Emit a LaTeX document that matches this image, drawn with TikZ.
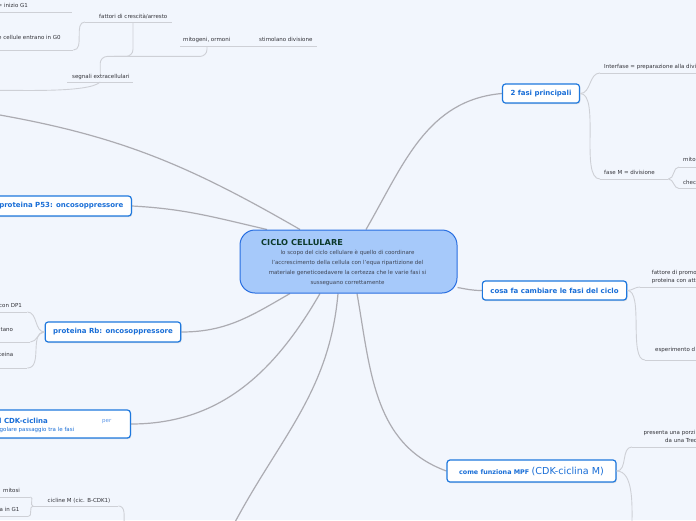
\documentclass[tikz,border=0pt]{standalone}
\usepackage{fontspec}
\setmainfont{DejaVu Sans}
\usetikzlibrary{shadows}
\definecolor{paper}{RGB}{242,246,253}
\definecolor{boxblue}{RGB}{30,120,222}
\definecolor{txtblue}{RGB}{25,110,215}
\definecolor{perblue}{RGB}{90,150,232}
\definecolor{centrefill}{RGB}{166,201,250}
\definecolor{centredraw}{RGB}{40,110,225}
\definecolor{titlegreen}{RGB}{12,58,44}
\definecolor{bodygray}{RGB}{62,68,84}
\definecolor{linkgray}{RGB}{172,172,178}
\definecolor{subgray}{RGB}{206,208,214}
\definecolor{subtxt}{RGB}{50,50,56}
\newcommand{\subfont}{\fontsize{5.5}{6.6}\selectfont}
\newcommand{\topic}[3]{\makebox[#1pt][l]{\hspace*{#2pt}#3}}
\pgfdeclarelayer{back}\pgfdeclarelayer{links}
\pgfsetlayers{back,links,main}

\begin{document}
\begin{tikzpicture}[x=1pt,y=1pt,
    link/.style={draw=linkgray, line width=1.2pt},
    subline/.style={draw=subgray, line width=0.9pt},
    topicbox/.style={rectangle, rounded corners=3pt, draw=boxblue, line width=1.2pt, fill=white, text=txtblue,
        font=\bfseries\fontsize{7}{8.4}\selectfont, inner xsep=8pt, inner ysep=0pt, minimum height=19pt,
        drop shadow={opacity=0.22, shadow xshift=0.8pt, shadow yshift=-1.2pt}},
    centre/.style={rectangle, rounded corners=15pt, draw=centredraw, line width=1pt, fill=centrefill,
        minimum width=217pt, minimum height=63pt},
    sub/.style={font=\subfont, text=subtxt, inner sep=0pt, anchor=south west, text depth=4pt},
    plain/.style={inner sep=0pt, anchor=base west}]
\useasboundingbox (0,0) rectangle (696,-520);
\begin{pgfonlayer}{back}
    \fill[paper] (0,0) rectangle (696,-520);
\end{pgfonlayer}

% centro
\node[centre] (ciclo) at (348.5,-261.5) {};
\node[plain, font=\bfseries\fontsize{8.2}{9}\selectfont, text=titlegreen] (titolo) at (261,-245.3) {CICLO CELLULARE};
\node[align=center, inner sep=0pt, font=\fontsize{5.5}{10}\selectfont, text=bodygray] (scopo) at (347.5,-267.6)
    {lo scopo del ciclo cellulare è quello di coordinare\\l'accrescimento della cellula con l'equa ripartizione del\\materiale geneticoedavere la certezza che le varie fasi si\\susseguano correttamente};

% rami principali
\node[topicbox] (fasi) at (541,-93.5) {2 fasi principali};
\node[topicbox] (cosa) at (554.5,-290.5) {cosa fa cambiare le fasi del ciclo};
\node[topicbox, minimum height=22pt, minimum width=169pt] (mpf) at (531.5,-471) {{\fontsize{6.4}{7}\selectfont come funziona MPF} {\mdseries\fontsize{9.6}{11}\selectfont (CDK-ciclina M)}};
\node[topicbox, anchor=east, minimum height=20pt] (p53) at (132,-206) {proteina P53: oncosoppressore};
\node[topicbox, minimum height=20pt] (rb) at (113,-332) {proteina Rb: oncosoppressore};
\node[topicbox, anchor=east, minimum width=145pt, minimum height=28pt] (cdk) at (131,-424) {};
\node[plain, font=\bfseries\fontsize{7}{8}\selectfont, text=txtblue] (cdka) at (-1,-423.3) {l CDK-ciclina};
\node[plain, font=\subfont, text=perblue] (cdkb) at (102,-422.8) {per};
\node[plain, font=\subfont, text=txtblue] (cdkc) at (-0.5,-431.2) {golare passaggio tra le fasi};

% sottorami
\node[sub] (n01) at (-3,-12) {\topic{75}{0.5}{= inizio G1}};
\node[sub, text depth=10pt] (n02) at (-3,-50) {\topic{76}{1}{e cellule entrano in G0}};
\node[sub, text depth=3pt] (n03) at (85,-22) {\topic{87}{14}{fattori di crescità/arresto}};
\node[sub, text depth=4.5pt] (n04) at (180,-46.5) {\topic{70}{3}{mitogeni, ormoni}};
\node[sub, text depth=4.5pt] (n05) at (250,-46.5) {\topic{67}{9}{stimolano divisione}};
\node[sub, text depth=3pt] (n06) at (67,-82) {\topic{66}{5}{segnali extracellulari}};
\node[sub, text depth=4.5pt] (n07) at (-3,-312) {\topic{30}{2}{con DP1}};
\node[sub, text depth=10.7pt] (n08) at (-3,-342) {\topic{33}{3.5}{tano}};
\node[sub, text depth=11.3pt] (n09) at (-3,-368) {\topic{30}{2}{teina}};
\node[sub] (n10) at (-3,-497) {\topic{33}{6}{mitosi}};
\node[sub, text depth=4.5pt] (n11) at (-3,-516.5) {\topic{31}{2.5}{a in G1}};
\node[sub, text depth=3.5pt] (n12) at (33,-506) {\topic{85}{14.5}{cicline M (cic. B-CDK1)}};
\node[sub, text depth=4.3pt] (n13) at (600,-73) {\topic{100}{4}{Interfase = preparazione alla divi}};
\node[sub] (n14) at (600,-179) {\topic{68}{4}{fase M = divisione}};
\node[sub, text depth=5pt] (n15) at (679,-167) {\topic{25}{4}{mito}};
\node[sub, text depth=3.5pt] (n16) at (679,-188.5) {\topic{25}{4}{chec}};
\node[sub, text depth=4.3pt] (n17) at (640,-287) {\topic{60}{11.7}{\shortstack[l]{fattore di promo\\proteina con att}}};
\node[sub, text depth=8pt] (n18) at (645,-360) {\topic{60}{10}{esperimento d}};
\node[sub] (n19) at (632,-447) {\topic{70}{11.5}{\shortstack[l]{presenta una porzi\\\hspace*{21.5pt}da una Treo}}};

\coordinate (offA) at (-3,-114.5); \coordinate (offB) at (234,-524); \coordinate (offC) at (-3,-90.5);
\coordinate (offD) at (124,-524); \coordinate (offE) at (632,-524);
\coordinate (segj) at ([yshift=18]n06.north);

\begin{pgfonlayer}{links}
    \draw[link] ([xshift=17.5]ciclo.north) to[out=60,in=185] (fasi.west);
    \draw[link] ([yshift=-26]ciclo.east) to[out=-10,in=180] (cosa.west);
    \draw[link] ([xshift=8.5]ciclo.south) to[out=-80,in=160] (mpf.west);
    \draw[link] ([xshift=-81.5]ciclo.north) to[out=167,in=-3] (p53.east);
    \draw[link] ([xshift=-48.5]ciclo.north) to[out=150,in=-10] (offA);
    \draw[link] ([xshift=-58.5]ciclo.south) to[out=-150,in=0] (rb.east);
    \draw[link] ([xshift=-28.5]ciclo.south) to[out=-120,in=0] (cdk.east);
    \draw[link] ([xshift=-10.5]ciclo.south) to[out=-95,in=62] (offB);
\end{pgfonlayer}

\foreach \n in {n01,n02,n03,n04,n05,n06,n07,n08,n09,n10,n11,n12,n13,n14,n15,n16,n17,n18,n19}
    \draw[subline] (\n.south west) -- (\n.south east);
\draw[subline] (fasi.east) to[out=0,in=180] (n13.south west); \draw[subline] (fasi.east) to[out=0,in=180,looseness=0.6] (n14.south west);
\draw[subline] (n14.south east) to[out=0,in=180] (n15.south west); \draw[subline] (n14.south east) to[out=0,in=180] (n16.south west);
\draw[subline] (cosa.east) to[out=0,in=180] (n17.south west); \draw[subline] (cosa.east) to[out=0,in=180,looseness=0.6] (n18.south west);
\draw[subline] (mpf.east) to[out=0,in=180] (n19.south west); \draw[subline] (mpf.east) to[out=0,in=90,looseness=0.8] (offE);
\draw[subline] (rb.west) to[out=180,in=0] (n07.south east); \draw[subline] (rb.west) to[out=180,in=0] (n08.south east); \draw[subline] (rb.west) to[out=180,in=0] (n09.south east);
\draw[subline] (n12.south west) to[out=180,in=0] (n10.south east); \draw[subline] (n12.south west) to[out=180,in=0] (n11.south east);
\draw[subline] (n12.south east) to[out=0,in=90] (offD);
\draw[subline] (offC) to[out=3,in=-135,looseness=0.4] (n06.south);
\draw[subline, rounded corners=7pt] (n06.north) -- (segj) -| ([xshift=27]n04.south west);
\draw[subline, rounded corners=7pt] ([xshift=14]segj) -| ([xshift=48]n03.south west);
\draw[subline] (n03.south west) to[out=180,in=0] (n02.south east);
\end{tikzpicture}
\end{document}
